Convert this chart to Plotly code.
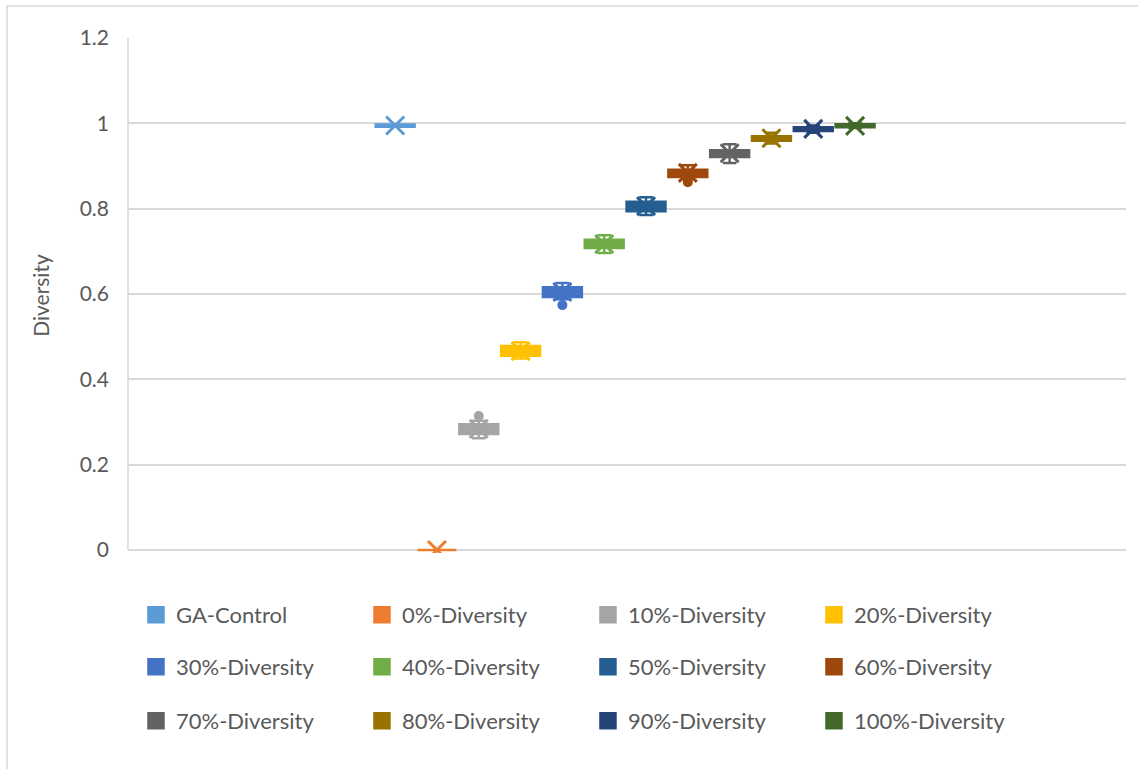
import plotly.graph_objects as go

# Series names and colours
names = ["GA-Control", "0%-Diversity", "10%-Diversity", "20%-Diversity",
         "30%-Diversity", "40%-Diversity", "50%-Diversity", "60%-Diversity",
         "70%-Diversity", "80%-Diversity", "90%-Diversity", "100%-Diversity"]
colors = ["#5B9BD5", "#ED7D31", "#A5A5A5", "#FFC000", "#4472C4", "#70AD47",
          "#255E91", "#9E480E", "#636363", "#997300", "#264478", "#43682B"]

# Box statistics per series
lower = [0.992, 0.0, 0.262, 0.449, 0.588, 0.696, 0.785, 0.869, 0.907, 0.953, 0.978, 0.989]
q1 = [0.992, 0.0, 0.272, 0.455, 0.593, 0.708, 0.794, 0.874, 0.921, 0.959, 0.982, 0.991]
median = [0.995, 0.0, 0.283, 0.466, 0.605, 0.717, 0.806, 0.883, 0.930, 0.965, 0.987, 0.995]
q3 = [0.997, 0.0, 0.295, 0.478, 0.616, 0.727, 0.816, 0.891, 0.937, 0.970, 0.991, 0.998]
upper = [0.997, 0.0, 0.303, 0.487, 0.626, 0.738, 0.827, 0.902, 0.951, 0.978, 0.995, 1.0]
mean = [0.995, 0.0, 0.284, 0.466, 0.605, 0.717, 0.806, 0.884, 0.930, 0.965, 0.987, 0.994]

# Outlying points (series name -> values)
outliers = {"10%-Diversity": [0.314], "30%-Diversity": [0.574], "60%-Diversity": [0.862]}

FONT = "Lato, 'Open Sans', sans-serif"
TEXT = "#595959"
GRID = "#D9D9D9"

fig = go.Figure()

for i, n in enumerate(names):
    c = colors[i]
    fig.add_trace(go.Box(
        x=[n], q1=[q1[i]], median=[median[i]], q3=[q3[i]],
        lowerfence=[lower[i]], upperfence=[upper[i]],
        width=0.93, whiskerwidth=0.35,
        fillcolor=c, line=dict(color=c, width=2.5),
        showlegend=False, hoverinfo="skip",
    ))

for i, n in enumerate(names):
    c = colors[i]
    fig.add_trace(go.Scatter(
        x=[n], y=[mean[i]], mode="markers",
        marker=dict(symbol="x-thin", size=18, line=dict(color=c, width=3)),
        showlegend=False, hoverinfo="skip",
    ))
    if n in outliers:
        fig.add_trace(go.Scatter(
            x=[n] * len(outliers[n]), y=outliers[n], mode="markers",
            marker=dict(symbol="circle", size=10, color=c),
            showlegend=False, hoverinfo="skip",
        ))

# Legend entries: three rows of four
legend_ids = ["legend", "legend2", "legend3"]
for i, n in enumerate(names):
    fig.add_trace(go.Scatter(
        x=[None], y=[None], mode="markers", name=n,
        marker=dict(symbol="square", size=20, color=colors[i],
                    line=dict(color=colors[i], width=1.5)),
        legend=legend_ids[i // 4],
    ))

row_y = [615, 667, 721]
H_PLOT_TOP, H_PLOT_BOT = 38, 553
def paper_y(py):
    return (H_PLOT_BOT - py) / (H_PLOT_BOT - H_PLOT_TOP)

leg_common = dict(orientation="h", xanchor="left", yanchor="middle",
                  x=0.008, font=dict(family=FONT, size=22, color=TEXT),
                  entrywidth=181, entrywidthmode="pixels",
                  itemsizing="trace", bgcolor="rgba(0,0,0,0)")

fig.update_layout(
    width=1138, height=769,
    margin=dict(l=128, r=12, t=38, b=216),
    paper_bgcolor="white", plot_bgcolor="white",
    boxmode="overlay",
    font=dict(family=FONT, color=TEXT),
    legend=dict(y=paper_y(row_y[0]), **leg_common),
    legend2=dict(y=paper_y(row_y[1]), **leg_common),
    legend3=dict(y=paper_y(row_y[2]), **leg_common),
    xaxis=dict(type="category", categoryorder="array", categoryarray=names,
               range=[-6.39, 17.48], showticklabels=False, showgrid=False,
               zeroline=False, showline=False, ticks=""),
    yaxis=dict(range=[-0.007, 1.2], tickvals=[0, 0.2, 0.4, 0.6, 0.8, 1, 1.2],
               ticktext=["0", "0.2", "0.4", "0.6", "0.8", "1", "1.2"],
               showgrid=True, gridcolor=GRID, gridwidth=1.5,
               zeroline=False, showline=False,
               ticks="", ticklabelstandoff=18,
               tickfont=dict(family=FONT, size=21, color=TEXT),
               title=dict(text="Diversity", standoff=24,
                          font=dict(family=FONT, size=21, color=TEXT))),
    shapes=[
        # left edge of the plot area
        dict(type="line", xref="paper", yref="y", x0=0, x1=0, y0=0, y1=1.2,
             line=dict(color=GRID, width=1.5), layer="below"),
        # chart area border
        dict(type="path", xref="paper", yref="paper",
             path="M -0.1212 -0.5 L -0.1212 1.0621 L 1.05 1.0621",
             line=dict(color=GRID, width=1.5)),
    ],
)

fig.write_html("out.html")
